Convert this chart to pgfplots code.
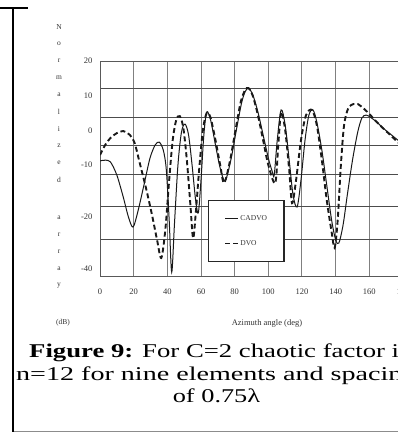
\documentclass[border=0pt]{standalone}
\usepackage{pgfplots}
\pgfplotsset{compat=1.18}
\usepackage{pgfplotstable}
\usepackage{fontspec}
\setmainfont{Liberation Serif}
\usepackage{graphicx}

% Array factor of the nine-element array, azimuth angle (deg) vs level (dB)
\pgfplotstableread{
ang    dB
0      -8.8
3.1    -8.6
6.2    -9.1
10.0   -12.9
13.8   -19.2
16.9   -25.0
19.6   -27.9
22.4   -23.6
26.1   -15.8
29.7   -8.0
32.8   -4.2
35.2   -3.4
37.6   -5.7
39.4   -11.4
41.1   -25.9
42.6   -40.9
44.2   -27.3
46.3   -10.0
48.4   -0.5
50.5   1.8
52.6   -1.3
54.7   -10.0
56.8   -20.1
58.4   -23.8
60.0   -14.3
61.7   -1.3
63.4   5.3
65.7   3.0
68.6   -4.2
71.4   -10.9
74.3   -14.6
77.7   -8.6
81.0   0.1
84.1   7.9
86.2   11.1
88.2   12.2
90.8   10.2
93.8   5.3
96.9   -1.3
100.0  -8.0
102.4  -12.0
103.5  -12.9
105.3  -2.8
107.6  5.9
110.0  1.5
112.4  -8.6
114.7  -18.7
117.1  -22.1
119.4  -14.3
121.8  -2.8
124.1  4.4
126.5  5.9
128.8  2.4
131.8  -5.7
134.7  -15.8
137.6  -25.9
140.0  -31.6
141.9  -32.5
144.4  -27.3
146.9  -18.7
150.0  -8.6
153.1  -0.5
155.6  3.6
158.1  4.4
160.6  3.8
164.4  2.4
168.8  0.4
173.1  -1.3
176.9  -2.8
180.0  -4.0
}\cadvo

\pgfplotstableread{
ang    dB
0      -7.1
3.1    -4.2
6.2    -2.2
10.0   -0.8
13.8   -0.2
17.7   -1.3
20.6   -3.7
23.6   -9.4
27.3   -16.6
30.9   -24.4
33.9   -31.6
36.4   -36.8
38.8   -28.7
41.1   -14.3
43.2   -2.8
45.3   3.0
47.4   4.1
49.5   0.7
51.6   -8.6
53.7   -21.5
55.3   -31.1
56.8   -24.4
58.9   -11.4
61.1   0.0
63.4   5.0
65.7   3.6
68.6   -2.8
71.4   -10.0
73.7   -15.2
77.1   -9.1
80.5   0.1
83.6   8.2
86.2   11.6
88.2   12.2
90.8   9.9
93.8   4.4
96.9   -2.8
100.0  -10.0
104.1  -15.2
105.9  -4.2
107.6  5.3
110.0  0.1
112.4  -11.4
114.1  -21.0
116.5  -14.3
119.4  -2.8
122.4  4.4
125.9  5.9
128.8  1.5
131.8  -8.6
134.7  -20.1
137.6  -29.3
139.4  -33.9
141.2  -25.9
143.1  -10.0
145.0  1.5
147.5  6.4
150.6  7.6
153.1  7.6
156.9  6.2
160.6  4.4
165.6  1.8
170.6  -0.5
176.9  -3.4
180.0  -4.6
}\dvo

\begin{document}
\begin{tikzpicture}[x=1pt,y=1pt]
\useasboundingbox (0,0) rectangle (398,-432);
\clip (0,0) rectangle (398,-432);
\fill[white] (0,0) rectangle (398,-432);

% table cell rules
\draw[line width=2pt] (13,-8) -- (13,-433);
\draw[line width=2pt] (0,-8) -- (28,-8);
\draw[black!45, line width=0.8pt] (14,-431) -- (398,-431);

\begin{axis}[
  at={(100pt,-61pt)}, anchor=north west,
  scale only axis, width=303pt, height=215pt,
  xmin=0, xmax=180, ymin=-42, ymax=20,
  xtick={0,20,...,180},
  ytick={20,10,0,-10,-25,-40},
  yticklabels={20,10,0,-10,-20,-40},
  minor ytick={12.2,3.6,-4.5,-12.6,-22.1,-31.6},
  xmajorgrids, yminorgrids, ymajorgrids=false,
  major tick length=0pt, minor tick length=0pt,
  major x grid style={black!50, line width=1pt},
  minor y grid style={black!70, line width=1pt},
  axis line style={black!65, line width=1pt},
  /pgf/number format/assume math mode=true,
  tick label style={font=\fontsize{8.5}{9}\selectfont, text=black!80},
  yticklabel style={xshift=-4pt},
  xticklabel style={yshift=-9pt},
  legend cell align=left,
  legend image code/.code={\draw[#1] (0pt,0pt) -- (13pt,0pt);},
  legend style={at={(0.356,0.353)}, anchor=north west,
    draw=black!85, line width=1.3pt, fill=white,
    inner xsep=16pt, inner ysep=14pt, row sep=16pt,
    font=\fontsize{7.5}{8}\selectfont, text=black!80,
    nodes={inner sep=1pt}},
]
\addplot[black!90, line width=1pt, smooth, tension=0.5]
  table[x=ang, y=dB] {\cadvo};
\addlegendentry{CADVO}
\addplot[black!90, line width=1.9pt, dash pattern=on 5pt off 3pt, smooth, tension=0.5]
  table[x=ang, y=dB] {\dvo};
\addlegendentry{DVO}
\end{axis}

% vertical axis title, one letter per line
\foreach \ch/\yy in {N/27,o/44,r/61,m/78,a/95,l/112,i/129,z/146,e/163,d/180,a/218,r/235,r/252,a/269,y/286}
  \node[font=\fontsize{7.5}{8}\selectfont, text=black!80, inner sep=0pt] at (59,-\yy) {\ch};
\node[font=\fontsize{7.5}{8}\selectfont, text=black!80, inner sep=0pt] at (63,-323) {(dB)};
\node[font=\fontsize{8.5}{9}\selectfont, text=black!80, inner sep=0pt] at (267,-323) {Azimuth angle (deg)};

% caption
\node[anchor=base west, inner sep=0pt, font=\fontsize{19.5}{22}\selectfont] at (29,-357)
  {\scalebox{1.37}[1]{\textbf{Figure 9:} For C=2 chaotic factor is}};
\node[anchor=base west, inner sep=0pt, font=\fontsize{19.5}{22}\selectfont] at (16,-380)
  {\scalebox{1.44}[1]{n=12 for nine elements and spacing}};
\node[anchor=base, inner sep=0pt, font=\fontsize{19.5}{22}\selectfont] at (216.5,-402)
  {\scalebox{1.35}[1]{of 0.75λ}};
\end{tikzpicture}
\end{document}
